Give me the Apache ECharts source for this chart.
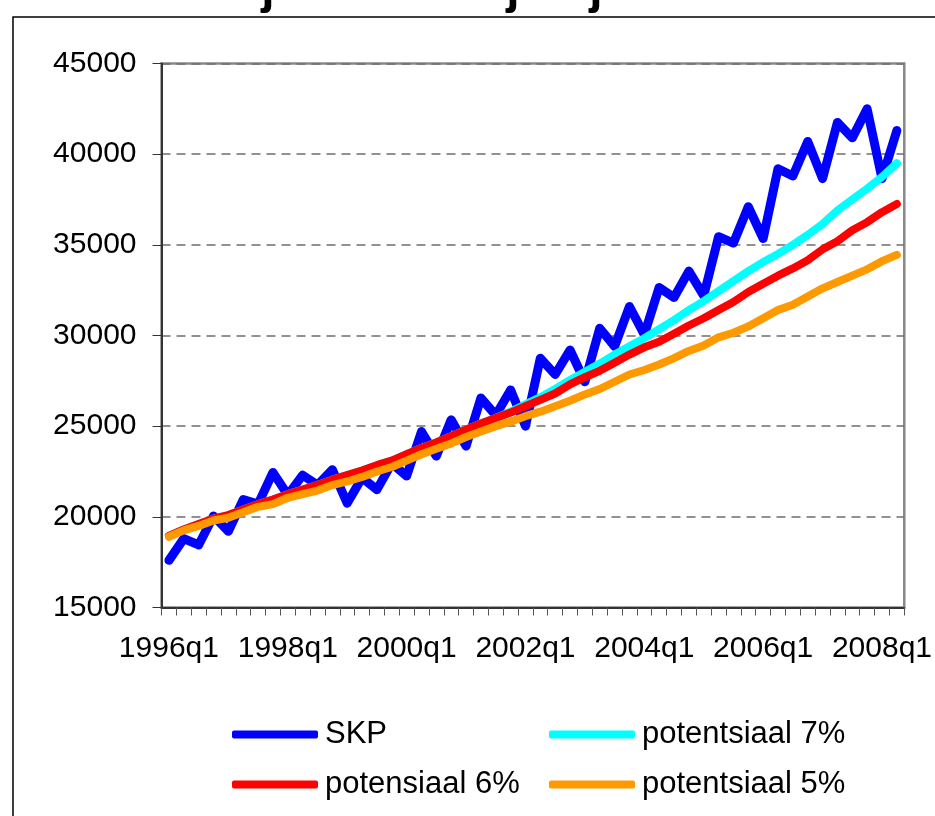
<!DOCTYPE html>
<html>
<head>
<meta charset="utf-8">
<script src="https://cdn.jsdelivr.net/npm/echarts@6/dist/echarts.min.js"></script>
<style>
html,body{margin:0;padding:0;background:#fff;}
#chart{width:935px;height:816px;}
</style>
</head>
<body>
<div id="chart"></div>
<script>
// ---- data ----
const years = [1996,1997,1998,1999,2000,2001,2002,2003,2004,2005,2006,2007,2008];
const quarters = ['q1','q2','q3','q4'];
const categories = [];
years.forEach(y => quarters.forEach(q => categories.push(y + q)));
categories.length = 50; // 1996q1 .. 2008q2

const yTicks = [15000, 20000, 25000, 30000, 35000, 40000, 45000];

const skp = [17600,18800,18450,20050,19200,20950,20700,22450,21200,22300,
             21750,22600,20750,22150,21500,22950,22250,24700,23350,25350,
             23900,26550,25600,27000,25000,28750,27850,29200,27450,30400,
             29400,31600,30050,32650,32100,33550,32200,35450,35100,37100,
             35350,39200,38800,40700,38650,41750,40900,42500,38650,41300];

const pot7 = [18950,19300,19600,19900,20100,20400,20700,20950,21250,21500,
              21750,22050,22300,22550,22850,23100,23450,23800,24100,24450,
              24800,25150,25450,25800,26200,26600,27050,27550,28000,28450,
              28950,29400,29850,30350,30850,31400,31900,32450,33000,33550,
              34050,34500,35000,35550,36150,36900,37500,38100,38750,39500];

const pot6 = [18950,19300,19600,19900,20100,20400,20700,20950,21250,21500,
              21750,22050,22300,22550,22850,23100,23450,23800,24100,24450,
              24800,25150,25450,25750,26100,26450,26800,27300,27700,28050,
              28500,28950,29350,29650,30100,30550,30950,31400,31850,32400,
              32850,33300,33700,34150,34750,35200,35800,36250,36800,37250];

const pot5 = [18900,19250,19500,19800,19950,20250,20550,20700,21050,21250,
              21450,21750,21950,22200,22500,22750,23100,23450,23750,24050,
              24400,24700,25000,25250,25550,25800,26100,26400,26750,27050,
              27450,27850,28100,28400,28750,29150,29450,29900,30150,30500,
              30950,31400,31700,32150,32600,32950,33300,33650,34100,34450];

const seriesNames = ['SKP', 'potentsiaal 7%', 'potensiaal 6%', 'potentsiaal 5%'];
const seriesColors = ['#0000FF', '#00FFFF', '#FF0000', '#FF9900'];
const seriesData = [skp, pot7, pot6, pot5];

// ---- chart ----
const FONT = "'Liberation Sans', Arial, sans-serif";
const chart = echarts.init(document.getElementById('chart'), null, {renderer: 'canvas'});

const legendPos = [
  {left: 232, top: 719},
  {left: 549, top: 719},
  {left: 232, top: 769},
  {left: 549, top: 769}
];

const option = {
  animation: false,
  backgroundColor: '#ffffff',
  textStyle: {fontFamily: FONT},
  grid: {
    left: 161.5, right: 26, top: 63.5, bottom: 208.5,
    show: true, borderColor: '#888888', borderWidth: 2.5, backgroundColor: 'transparent'
  },
  legend: seriesNames.map((n, i) => ({
    data: [n],
    left: legendPos[i].left,
    top: legendPos[i].top,
    padding: 0,
    icon: 'roundRect',
    itemWidth: 86,
    itemHeight: 8,
    itemGap: 0,
    selectedMode: false,
    textStyle: {fontSize: 31, color: '#000', fontFamily: FONT, padding: [0,0,0,2]}
  })),
  xAxis: {
    type: 'category',
    data: categories,
    boundaryGap: true,
    axisLine: {lineStyle: {color: '#333', width: 2}},
    axisTick: {show: true, interval: 0, length: 8, lineStyle: {color: '#555', width: 1}},
    axisLabel: {interval: 7, fontSize: 30, color: '#000', margin: 26, fontFamily: FONT},
    splitLine: {show: false}
  },
  yAxis: {
    type: 'value',
    min: yTicks[0],
    max: yTicks[yTicks.length - 1],
    interval: 5000,
    axisLine: {show: true, lineStyle: {color: '#333', width: 2}},
    axisTick: {show: true, length: 9, lineStyle: {color: '#333', width: 1}},
    axisLabel: {fontSize: 30, color: '#000', margin: 25, fontFamily: FONT,
                formatter: v => String(v)},
    splitLine: {show: true, lineStyle: {color: '#6e6e6e', width: 1.5, type: [9, 6]}}
  },
  series: seriesNames.map((n, i) => ({
    name: n,
    type: 'line',
    data: seriesData[i],
    symbol: 'none',
    color: seriesColors[i],
    lineStyle: {color: seriesColors[i], width: i === 0 ? 9 : 8, cap: 'round', join: 'round'},
    itemStyle: {color: seriesColors[i]},
    emphasis: {disabled: true}
  })),
  graphic: [
    {type: 'rect', shape: {x: 13, y: 17, width: 1000, height: 1000},
     style: {fill: 'none', stroke: '#000', lineWidth: 1.5}, silent: true},
    {type: 'text', x: 268, y: -10, style: {text: 'j', font: "bold 48px " + FONT, fill: '#000', align: 'center', verticalAlign: 'middle'}},
    {type: 'text', x: 513, y: -10, style: {text: 'j', font: "bold 48px " + FONT, fill: '#000', align: 'center', verticalAlign: 'middle'}},
    {type: 'text', x: 596, y: -10, style: {text: 'j', font: "bold 48px " + FONT, fill: '#000', align: 'center', verticalAlign: 'middle'}}
  ]
};
chart.setOption(option);
</script>
</body>
</html>
